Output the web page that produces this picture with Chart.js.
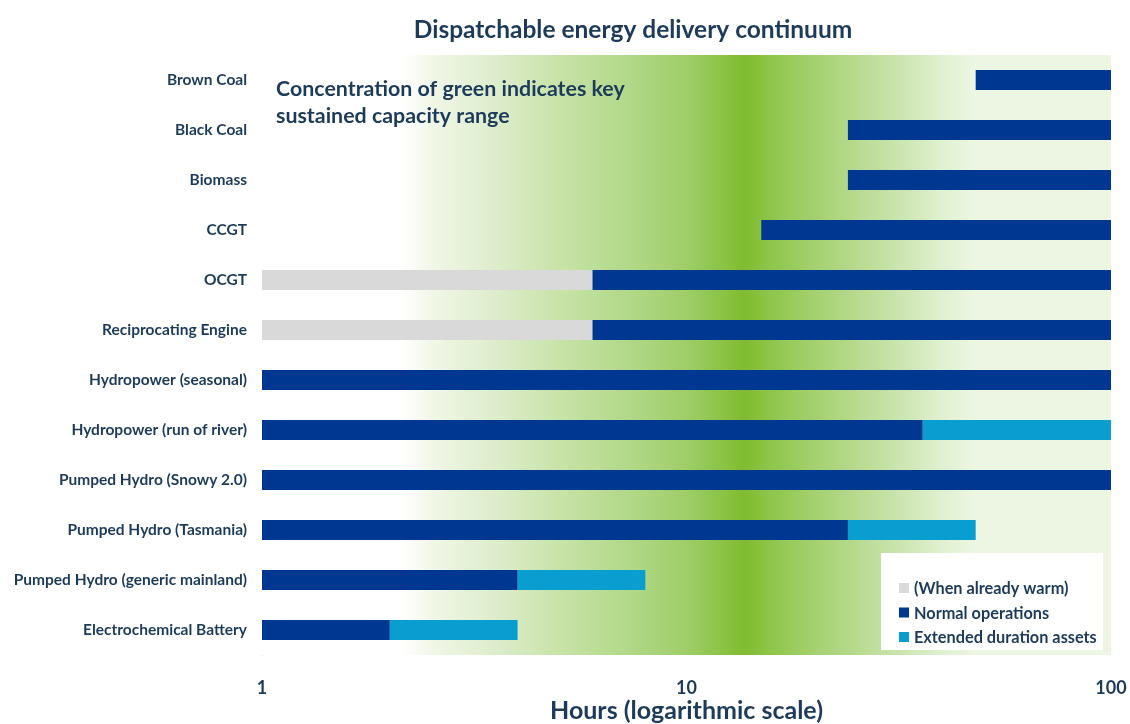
<!DOCTYPE html>
<html>
<head>
<meta charset="utf-8">
<title>Dispatchable energy delivery continuum</title>
<script src="https://cdn.jsdelivr.net/npm/chart.js@4.4.1/dist/chart.umd.min.js"></script>
<style>
  body { margin: 0; background: #fff; }
  canvas { display: block; }
</style>
</head>
<body>
<canvas id="continuum" width="1130" height="724"></canvas>
<script>
// technologies, top to bottom
var technologies = [
  'Brown Coal',
  'Black Coal',
  'Biomass',
  'CCGT',
  'OCGT',
  'Reciprocating Engine',
  'Hydropower (seasonal)',
  'Hydropower (run of river)',
  'Pumped Hydro (Snowy 2.0)',
  'Pumped Hydro (Tasmania)',
  'Pumped Hydro (generic mainland)',
  'Electrochemical Battery'
];

// [from, to] hours for each series
var warmStart = [null, null, null, null, [1, 6], [1, 6], null, null, null, null, null, null];
var normalOps = [[48, 100], [24, 100], [24, 100], [15, 100], [6, 100], [6, 100],
                 [1, 100], [1, 36], [1, 100], [1, 24], [1, 4], [1, 2]];
var extendedDuration = [null, null, null, null, null, null, null, [36, 100], null, [24, 48], [4, 8], [2, 4]];

var hourTicks = [1, 10, 100];

var textColor = '#1c3b5b';

// green band behind the bars: [hours, colour]
var greenStops = [
  [2.15, '#ffffff'], [2.5, '#f1f7e8'], [3.64, '#dcecc9'], [5.17, '#c6e2a5'],
  [7.36, '#b1d888'], [10.2, '#9dcd66'], [13.7, '#7fbc2f'], [16.6, '#93c853'],
  [21.2, '#a9d377'], [30.1, '#c6e2a8'], [39.5, '#dff0cf'], [47.8, '#edf6e2']
];

var greenBand = {
  id: 'greenBand',
  beforeDatasetsDraw: function (chart) {
    var ctx = chart.ctx, a = chart.chartArea, x = chart.scales.x;
    var w = a.right - a.left;
    var g = ctx.createLinearGradient(a.left, 0, a.right, 0);
    g.addColorStop(0, '#ffffff');
    greenStops.forEach(function (s) {
      g.addColorStop((x.getPixelForValue(s[0]) - a.left) / w, s[1]);
    });
    g.addColorStop(1, '#edf6e2');
    ctx.save();
    ctx.fillStyle = g;
    ctx.fillRect(a.left, a.top, w, a.bottom - a.top);
    ctx.restore();
  }
};

var extras = {
  id: 'extras',
  afterDraw: function (chart) {
    var ctx = chart.ctx;
    ctx.save();
    // heading
    ctx.fillStyle = textColor;
    ctx.textAlign = 'center';
    ctx.textBaseline = 'middle';
    ctx.font = 'bold 24.5px Lato';
    ctx.fillText('Dispatchable energy delivery continuum', 633, 30);

    // note in the top left of the plot
    ctx.textAlign = 'left';
    ctx.font = 'bold 21.4px Lato';
    ctx.fillText('Concentration of green indicates key', 276, 89);
    ctx.fillText('sustained capacity range', 276, 116);

    // legend box
    ctx.fillStyle = '#ffffff';
    ctx.fillRect(881, 553, 222, 97);
    ctx.font = 'bold 16.3px Lato';
    chart.data.datasets.forEach(function (ds, i) {
      var y = 588 + i * 24.5;
      ctx.fillStyle = ds.backgroundColor;
      ctx.fillRect(899, y - 5, 10, 10);
      ctx.fillStyle = textColor;
      ctx.fillText(ds.label, 914, y + 1);
    });
    ctx.restore();
  }
};

new Chart(document.getElementById('continuum'), {
  type: 'bar',
  data: {
    labels: technologies,
    datasets: [
      { label: '(When already warm)', data: warmStart, backgroundColor: '#d9d9d9' },
      { label: 'Normal operations', data: normalOps, backgroundColor: '#003791' },
      { label: 'Extended duration assets', data: extendedDuration, backgroundColor: '#0a9dcf' }
    ]
  },
  options: {
    responsive: false,
    animation: false,
    indexAxis: 'y',
    layout: { padding: { top: 55, right: 19, bottom: 0, left: 0 } },
    datasets: {
      bar: { grouped: false, barPercentage: 0.4, categoryPercentage: 1, borderSkipped: false }
    },
    plugins: {
      legend: { display: false },
      tooltip: { enabled: false }
    },
    scales: {
      x: {
        type: 'logarithmic',
        min: 1,
        max: 100,
        grid: { display: false },
        border: { display: false },
        afterBuildTicks: function (scale) {
          scale.ticks = hourTicks.map(function (v) { return { value: v }; });
        },
        afterFit: function (scale) {
          scale.height = 69;
          // let the "100" label hang past the plot edge
          scale.paddingLeft = 0;
          scale.paddingRight = 0;
        },
        ticks: {
          padding: 14,
          color: textColor,
          font: { family: 'Lato', size: 18, weight: 'bold' },
          callback: function (v) { return String(v); }
        },
        title: {
          display: true,
          text: 'Hours (logarithmic scale)',
          color: textColor,
          padding: { top: 0, bottom: -2 },
          font: { family: 'Lato', size: 25, weight: 'bold' }
        }
      },
      y: {
        grid: { display: false },
        border: { display: true, color: '#cfe4f6', width: 1 },
        afterFit: function (scale) { scale.width = 262; },
        ticks: {
          padding: 7,
          color: textColor,
          font: { family: 'Lato', size: 15.5, weight: 'bold' }
        }
      }
    }
  },
  plugins: [greenBand, extras]
});
</script>
</body>
</html>
